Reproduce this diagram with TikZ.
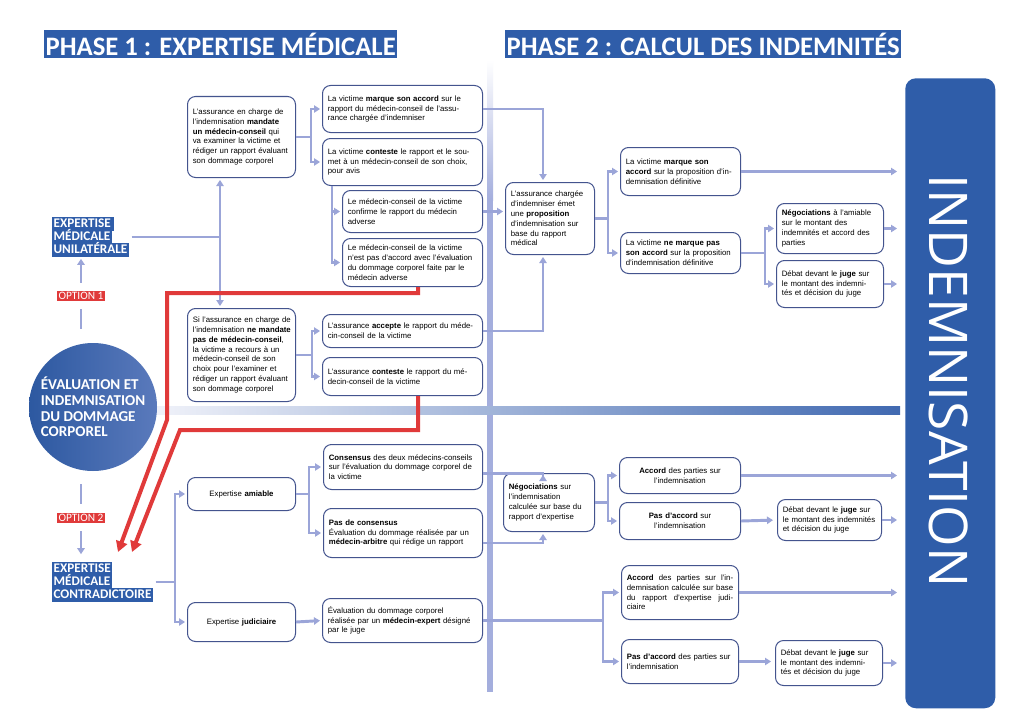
\documentclass[tikz,border=0pt]{standalone}
\usepackage{fontspec}
\setmainfont{Liberation Sans}
\newfontfamily\carl{Carlito}
\newfontfamily\osans{Open Sans}
\usetikzlibrary{arrows.meta}
\definecolor{bl}{HTML}{2F5DA9}
\definecolor{lav}{HTML}{9BA5D8}
\definecolor{bord}{HTML}{44548E}
\definecolor{rd}{HTML}{E03A3A}
\definecolor{divc}{HTML}{A4AEDD}
\newcommand\rs{\rightskip=0pt plus 1fil minus 20pt\relax}
\newcommand\bx[7][]{%
 \pgfmathsetmacro\bw{(#5-#3)*0.75}%
 \pgfmathsetmacro\bh{(#6-#4)*0.75}%
 \pgfmathsetmacro\tw{(#5-#3)*0.75-8}%
 \node[bxs,anchor=north west,minimum width=\bw pt,minimum height=\bh pt,text width=\tw pt,#1] (#2) at (#3,#4) {\rs #7};}
\begin{document}
\begin{tikzpicture}[x=0.75pt,y=-0.75pt,
  bxs/.style={draw=bord,line width=0.75pt,rounded corners=6pt,fill=white,inner xsep=4pt,inner ysep=1pt,align=left,font=\fontsize{5.85}{7.35}\selectfont},
  ln/.style={draw=lav,line width=2.2pt},
  ar/.style={ln,-{Triangle[length=4.5pt,width=5.5pt]},shorten >=1.5pt},
  ari/.style={ar,shorten >=6pt},
  rl/.style={draw=rd,line width=3pt,-{Triangle[length=8pt,width=8.5pt]}},
  lab/.style={fill=bl,text=white,font=\carl\bfseries\fontsize{9.9}{10}\selectfont,inner xsep=1pt,inner ysep=0.3pt,text height=7.2pt,text depth=2pt,anchor=west},
  opt/.style={fill=rd,text=white,font=\carl\fontsize{8.5}{9}\selectfont,inner xsep=1pt,inner ysep=0.8pt},
  ttl/.style={fill=bl,text=white,font=\carl\bfseries\fontsize{20}{22}\selectfont,inner xsep=1pt,inner ysep=0pt,minimum height=21pt,anchor=west}
]
\useasboundingbox (0,0) rectangle (1024,724);
\fill[white] (0,0) rectangle (1024,724);
% dividers
\shade[top color=white,bottom color=divc] (487,60) rectangle (493,200);
\fill[divc] (487,200) rectangle (493,692);
\shade[left color=white!85!divc,middle color=divc,right color=bl!85!divc] (150,406) rectangle (900,414);
% titles
\node[ttl] (t1) at (44,44) {PHASE 1 : EXPERTISE MÉDICALE};
\node[ttl] (t2) at (505,44) {PHASE 2 : CALCUL DES INDEMNITÉS};
% indemnisation
\node[fill=bl,rounded corners=8pt,anchor=north west,minimum width=67.5pt,minimum height=472.5pt] (indem) at (905,78) {};
\node[rotate=-90,text=white,font=\osans\fontsize{40}{40}\selectfont] (indt) at (949,381) {INDEMNISATION};
% circle
\node[circle,minimum size=96pt,left color=bl!95!black,right color=bl!60!lav,text=white,align=left,inner sep=0pt,font=\carl\bfseries\fontsize{11.3}{11.8}\selectfont] (circ) at (93,407) {ÉVALUATION ET\\INDEMNISATION\\DU DOMMAGE\\CORPOREL};
% left labels
\node[lab] (uni1) at (52,224) {EXPERTISE\,};
\node[lab] (uni2) at (52,237) {MÉDICALE};
\node[lab] (uni3) at (52,250) {UNILATÉRALE};
\node[lab] (con1) at (52,569) {EXPERTISE};
\node[lab] (con2) at (52,582) {MÉDICALE};
\node[lab] (con3) at (52,595) {CONTRADICTOIRE};
\node[opt] (opt1) at (81,296) {OPTION 1};
\node[opt] (opt2) at (81,518) {OPTION 2};
% boxes phase 1
\bx{A}{187}{96}{295}{177}{L’assurance en charge de\\l’indemnisation \textbf{mandate}\\\textbf{un médecin-conseil} qui\\va examiner la victime et\\rédiger un rapport évaluant\\son dommage corporel}
\bx{B1}{322}{85}{482}{132}{La victime \textbf{marque son accord} sur le\\rapport du médecin-conseil de l’assu-\\rance chargée d’indemniser}
\bx{B2}{322}{138}{482}{185}{La victime \textbf{conteste} le rapport et le sou-\\met à un médecin-conseil de son choix,\\pour avis}
\bx{B3}{342}{190}{482}{232}{Le médecin-conseil de la victime\\confirme le rapport du médecin\\adverse}
\bx{B4}{342}{238}{482}{286}{Le médecin-conseil de la victime\\n’est pas d’accord avec l’évaluation\\du dommage corporel faite par le\\médecin adverse}
\bx{F}{187}{308}{295}{401}{Si l’assurance en charge de\\l’indemnisation \textbf{ne mandate}\\\textbf{pas de médecin-conseil},\\la victime a recours à un\\médecin-conseil de son\\choix pour l’examiner et\\rédiger un rapport évaluant\\son dommage corporel}
\bx{G1}{322}{314}{482}{347}{L’assurance \textbf{accepte} le rapport du méde-\\cin-conseil de la victime}
\bx{G2}{322}{357}{482}{395}{L’assurance \textbf{conteste} le rapport du mé-\\decin-conseil de la victime}
\bx[align=center]{H1}{187}{477}{295}{510}{\centering Expertise \textbf{amiable}}
\bx[align=center]{H2}{187}{602}{295}{641}{\centering Expertise \textbf{judiciaire}}
\bx{I1}{323}{444}{482}{489}{\textbf{Consensus} des deux médecins-conseils\\sur l’évaluation du dommage corporel de\\la victime}
\bx{I2}{323}{508}{482}{557}{\textbf{Pas de consensus}\\Évaluation du dommage réalisée par un\\\textbf{médecin-arbitre} qui rédige un rapport}
\bx{I3}{322}{598}{482}{642}{Évaluation du dommage corporel\\réalisée par un \textbf{médecin-expert} désigné\\par le juge}
% boxes phase 2
\bx{C}{505}{182}{594}{254}{L’assurance chargée\\d’indemniser émet\\une \textbf{proposition}\\d’indemnisation sur\\base du rapport\\médical}
\bx{D1}{620}{147}{740}{195}{La victime \textbf{marque son}\\\textbf{accord} sur la proposition d’in-\\demnisation définitive}
\bx{D2}{620}{232}{740}{273}{La victime \textbf{ne marque pas}\\\textbf{son accord} sur la proposition\\d’indemnisation définitive}
\bx{E1}{776}{203}{883}{253}{\textbf{Négociations} à l’amiable\\sur le montant des\\indemnités et accord des\\parties}
\bx{E2}{776}{260}{883}{307}{Débat devant le \textbf{juge} sur\\le montant des indemni-\\tés et décision du juge}
\bx{J}{503}{473}{594}{531}{\textbf{Négociations} sur\\l’indemnisation\\calculée sur base du\\rapport d’expertise}
\bx[align=center]{K1}{619}{457}{740}{493}{\centering\textbf{Accord} des parties sur\\l’indemnisation}
\bx[align=center]{K2}{619}{502}{740}{539}{\centering\textbf{Pas d’accord} sur\\l’indemnisation}
\bx{L}{777}{499}{881}{540}{Débat devant le \textbf{juge} sur\\le montant des indemnités\\et décision du juge}
\bx[align=justify]{M1}{621}{565}{738}{619}{\rightskip=0pt\relax\textbf{Accord} des parties sur l’in-\linebreak demnisation calculée sur base\linebreak du rapport d’expertise judi-\linebreak ciaire}
\bx{M2}{621}{639}{738}{683}{\textbf{Pas d’accord} des parties sur\\l’indemnisation}
\bx{N}{775}{640}{882}{685}{Débat devant le \textbf{juge} sur\\le montant des indemni-\\tés et décision du juge}
% fork coordinates
\coordinate (j1) at (220,0);
\coordinate (j2) at (175,0);
\coordinate (fA) at (311,0);
\coordinate (fB) at (332,0);
\coordinate (fF) at (312,0);
\coordinate (fH) at (309,0);
\coordinate (cx) at (543,0);
\coordinate (fC) at (608,0);
\coordinate (fD) at (765,0);
\coordinate (fJ) at (608,0);
\coordinate (fI) at (603,0);
% option connectors
\draw[ln] ([yshift=-6pt]opt1.south) -- ++(0,20);
\draw[ar] ([yshift=6pt]opt1.north) -- (opt1.north |- uni3.south);
\draw[ln] ([yshift=7pt]opt2.north) -- ++(0,-20);
\draw[ar,shorten >=6pt] ([yshift=-6pt]opt2.south) -- (opt2.south |- con1.north);
% phase 1 connectors
\draw[ln] ([xshift=2pt]uni3.east |- uni2.east) -- (uni2.east -| j1);
\draw[ar] (uni2.east -| j1) -- (j1 |- A.south);
\draw[ar] (uni2.east -| j1) -- (j1 |- F.north);
\draw[ln] (A.east) -- (A.east -| fA);
\draw[ar] (A.east -| fA) |- (B1.west);
\draw[ar] (A.east -| fA) |- (B2.west);
\draw[ar] (fB |- B2.south) |- (B3.west);
\draw[ar] (fB |- B2.south) |- (B4.west);
\draw[ln] (F.east) -- (F.east -| fF);
\draw[ar] (F.east -| fF) |- (G1.west);
\draw[ar] (F.east -| fF) |- (G2.west);
\draw[ln] ([xshift=2pt]con3.east |- con2.east) -- (con2.east -| j2);
\draw[ar] (con2.east -| j2) |- (H1.west);
\draw[ar] (con2.east -| j2) |- (H2.west);
\draw[ln] (H1.east) -- (H1.east -| fH);
\draw[ar] (H1.east -| fH) |- (I1.west);
\draw[ar] (H1.east -| fH) |- (I2.west);
\draw[ar] (H2.east) -- (I3.west);
% to phase 2
\draw[ar] (B1.east) -| (cx |- C.north);
\draw[ar] (B3.east) -- (B3.east -| C.west);
\draw[ar] (G1.east) -| (cx |- C.south);
\draw[ar] ([yshift=-5pt]I1.east) -| (cx |- J.north);
\draw[ar] ([yshift=-7.5pt]I2.east) -| (cx |- J.south);
\draw[ln] (I3.east) -- (I3.east -| fI);
\draw[ar] (I3.east -| fI) |- (M1.west);
\draw[ar] (I3.east -| fI) |- (M2.west);
% phase 2 connectors
\draw[ln] (C.east) -- (C.east -| fC);
\draw[ar] (C.east -| fC) |- (D1.west);
\draw[ar] (C.east -| fC) |- (D2.west);
\draw[ari] (D1.east) -- (D1.east -| indem.west);
\draw[ln] (D2.east) -- (D2.east -| fD);
\draw[ar] (D2.east -| fD) |- (E1.west);
\draw[ar] (D2.east -| fD) |- (E2.west);
\draw[ari] (E1.east) -- (E1.east -| indem.west);
\draw[ari] (E2.east) -- (E2.east -| indem.west);
\draw[ln] (J.east) -- (J.east -| fJ);
\draw[ar] (J.east -| fJ) |- (K1.west);
\draw[ar] (J.east -| fJ) |- (K2.west);
\draw[ari] (K1.east) -- (K1.east -| indem.west);
\draw[ar,shorten >=3pt] (K2.east) -- (L.west);
\draw[ari] (L.east) -- (L.east -| indem.west);
\draw[ari] (M1.east) -- (M1.east -| indem.west);
\draw[ar,shorten >=3pt] (M2.east) -- (M2.east -| N.west);
\draw[ari] (N.east) -- (N.east -| indem.west);
% red paths
\coordinate (r1a) at (418,293);
\coordinate (r1b) at (167,293);
\coordinate (r1c) at (167,420);
\coordinate (r1d) at (118,552);
\coordinate (r2a) at (418,430);
\coordinate (r2b) at (180,430);
\coordinate (r2c) at (132,552);
\draw[rl] (B4.south -| r1a) -- (r1a) -- (r1b) -- (r1c) -- (r1d);
\draw[rl] (G2.south -| r2a) -- (r2a) -- (r2b) -- (r2c);
\end{tikzpicture}
\end{document}
